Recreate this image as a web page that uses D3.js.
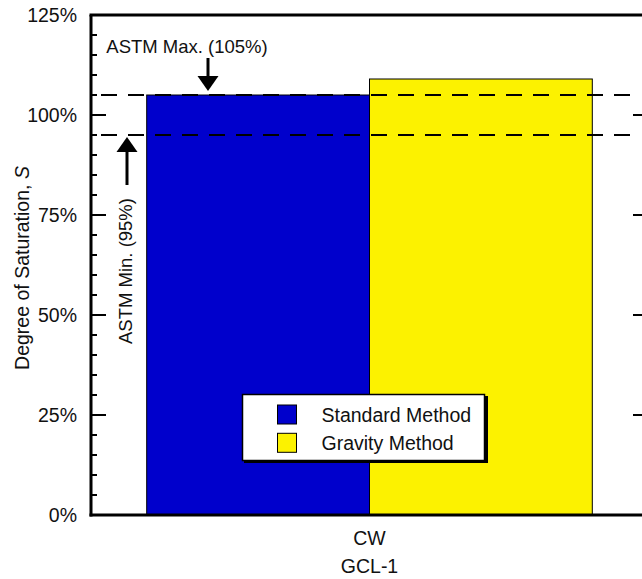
<!DOCTYPE html>
<html>
<head>
<meta charset="utf-8">
<script src="https://cdn.jsdelivr.net/npm/d3@7"></script>
<style>
  body { margin: 0; background: #fff; }
  text { font-family: "Liberation Sans", Arial, sans-serif; fill: #111; }
</style>
</head>
<body>
<svg id="svg" width="642" height="579"></svg>
<script>
// data
var categories = ["CW"];
var groupLabel = "GCL-1";
var seriesNames = ["Standard Method", "Gravity Method"];
var seriesColors = ["#0000cc", "#fcf200"];
var seriesValues = [[105], [109]]; // per series, per category
var yTicks = [0, 25, 50, 75, 100, 125];
var limits = [
  {name: "ASTM Max. (105%)", value: 105},
  {name: "ASTM Min. (95%)", value: 95}
];

var svg = d3.select("#svg");
// note: "top" is taken by window.top, so use plot* names
var plotL = 91, plotR = 648, plotT = 15, plotB = 515;

var y = d3.scaleLinear().domain([0, 125]).range([plotB, plotT]);
var x = d3.scaleBand().domain(categories).range([plotL, plotR])
  .paddingInner(0.2).paddingOuter(0.1);
var xs = d3.scaleBand().domain(seriesNames).range([0, x.bandwidth()]);

// bars
categories.forEach(function(cat, ci){
  svg.append("g").selectAll("rect")
    .data(seriesNames)
    .enter().append("rect")
    .attr("x", function(d){ return x(cat) + xs(d); })
    .attr("y", function(d, i){ return y(seriesValues[i][ci]); })
    .attr("width", xs.bandwidth())
    .attr("height", function(d, i){ return y(0) - y(seriesValues[i][ci]); })
    .attr("fill", function(d, i){ return seriesColors[i]; })
    .attr("stroke", "#000").attr("stroke-width", 1);
});

// dashed limit lines
svg.selectAll("line.lim").data(limits).enter().append("line")
  .attr("class", "lim")
  .attr("x1", 101).attr("x2", 636)
  .attr("y1", function(d){ return y(d.value); })
  .attr("y2", function(d){ return y(d.value); })
  .attr("stroke", "#000").attr("stroke-width", 2)
  .attr("stroke-dasharray", "16,11");

// axes: left labels + minor ticks, right inner ticks
var yAxisL = d3.axisLeft(y).tickValues(yTicks).tickSize(0).tickPadding(14)
  .tickFormat(function(d){ return d + "%"; });
var gL = svg.append("g").attr("transform", "translate(" + plotL + ",0)").call(yAxisL);
gL.select(".domain").remove();
gL.selectAll("text").style("font-size", "19.5px").style("font-family", "Liberation Sans, Arial, sans-serif").attr("fill", "#111");

var minor = d3.range(0, 126, 5);
svg.append("g").selectAll("line").data(minor).enter().append("line")
  .attr("x1", plotL).attr("x2", function(d){ return d % 25 === 0 ? plotL + 15 : plotL + 6; })
  .attr("y1", function(d){ return y(d); }).attr("y2", function(d){ return y(d); })
  .attr("stroke", "#000").attr("stroke-width", 2);
svg.append("g").selectAll("line").data(yTicks.slice(1, -1)).enter().append("line")
  .attr("x1", plotR - 15).attr("x2", plotR)
  .attr("y1", function(d){ return y(d); }).attr("y2", function(d){ return y(d); })
  .attr("stroke", "#000").attr("stroke-width", 2);

// frame
svg.append("line").attr("x1", plotL - 1.5).attr("x2", plotR).attr("y1", plotT).attr("y2", plotT)
  .attr("stroke", "#000").attr("stroke-width", 3);
svg.append("line").attr("x1", plotL - 1.5).attr("x2", plotR).attr("y1", plotB).attr("y2", plotB)
  .attr("stroke", "#000").attr("stroke-width", 3);
svg.append("line").attr("x1", plotL).attr("x2", plotL).attr("y1", plotT).attr("y2", plotB + 1.5)
  .attr("stroke", "#000").attr("stroke-width", 3);
svg.append("line").attr("x1", plotR).attr("x2", plotR).attr("y1", plotT).attr("y2", plotB + 1.5)
  .attr("stroke", "#000").attr("stroke-width", 3);

// x labels
categories.forEach(function(cat){
  svg.append("text").attr("x", x(cat) + x.bandwidth() / 2).attr("y", 545)
    .attr("text-anchor", "middle").style("font-size", "19.5px").text(cat);
});
svg.append("text").attr("x", x(categories[0]) + x.bandwidth() / 2).attr("y", 573)
  .attr("text-anchor", "middle").style("font-size", "19.5px").text(groupLabel);

// y title
var yt = svg.append("text").attr("transform", "translate(29," + ((plotT + plotB) / 2 + 3) + ") rotate(-90)")
  .attr("text-anchor", "middle").style("font-size", "19.5px");
yt.append("tspan").text("Degree of Saturation, ");
yt.append("tspan").style("font-style", "italic").text("S");

// annotations
function arrow(xp, y0, yTip){
  var dir = yTip > y0 ? 1 : -1;
  svg.append("line").attr("x1", xp).attr("x2", xp).attr("y1", y0).attr("y2", yTip - dir * 12)
    .attr("stroke", "#000").attr("stroke-width", 3);
  svg.append("path")
    .attr("d", "M" + (xp - 10.5) + "," + (yTip - dir * 15) + "L" + (xp + 10.5) + "," + (yTip - dir * 15) + "L" + xp + "," + yTip + "Z")
    .attr("fill", "#000");
}
arrow(208, 58, y(limits[0].value) - 4);
svg.append("text").attr("x", 187).attr("y", 53).attr("text-anchor", "middle")
  .style("font-size", "18.5px").text(limits[0].name);

arrow(127, 185, y(limits[1].value) + 2);
svg.append("text").attr("transform", "translate(132,271) rotate(-90)")
  .attr("text-anchor", "middle").style("font-size", "18.5px").text(limits[1].name);

// legend
var lg = svg.append("g");
lg.append("rect").attr("x", 244).attr("y", 396).attr("width", 244).attr("height", 67).attr("fill", "#000");
lg.append("rect").attr("x", 242.5).attr("y", 394.5).attr("width", 242).attr("height", 66)
  .attr("fill", "#fff").attr("stroke", "#000").attr("stroke-width", 1.5);
var li = lg.selectAll("g.item").data(seriesNames).enter().append("g")
  .attr("transform", function(d, i){ return "translate(277.5," + (405 + i * 28.3) + ")"; });
li.append("rect").attr("width", 19).attr("height", 19)
  .attr("fill", function(d, i){ return seriesColors[i]; })
  .attr("stroke", "#000").attr("stroke-width", 1);
li.append("text").attr("x", 44).attr("y", 16.7).style("font-size", "19.5px").text(function(d){ return d; });
</script>
</body>
</html>
